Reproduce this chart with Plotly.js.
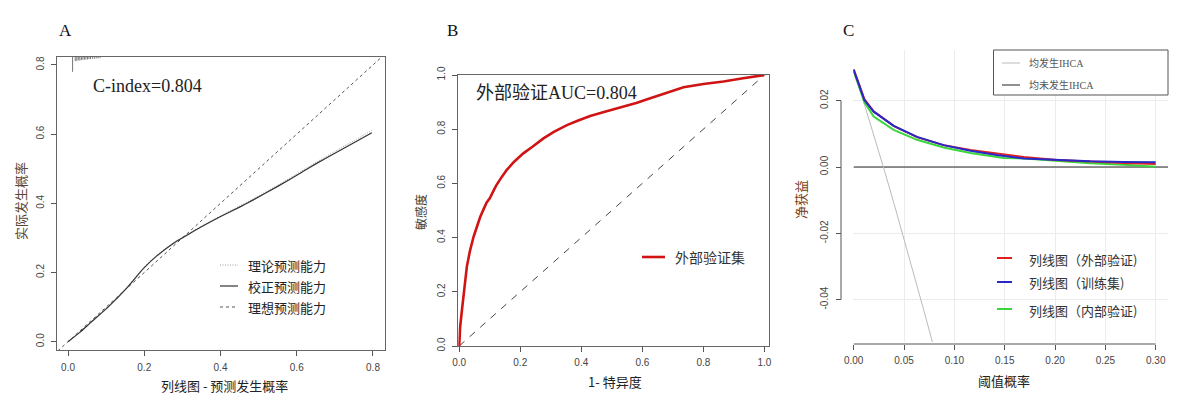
<!DOCTYPE html>
<html><head><meta charset="utf-8">
<script src="https://cdn.plot.ly/plotly-3.0.1.min.js"></script>
<style>html,body{margin:0;padding:0;background:#fff}#chart{width:1182px;height:395px}</style>
</head><body><div id="chart"></div>
<script>
// ---------- Panel A: calibration ----------
const calX      = [0, 0.031, 0.06, 0.105, 0.154, 0.2, 0.233, 0.276, 0.311, 0.35, 0.399, 0.45, 0.486, 0.55, 0.609, 0.65, 0.7, 0.75, 0.797];
const calY      = [0, 0.027, 0.056, 0.1, 0.155, 0.214, 0.248, 0.284, 0.307, 0.332, 0.361, 0.389, 0.41, 0.449, 0.487, 0.514, 0.545, 0.575, 0.604];
const appY      = [0, 0.028, 0.057, 0.102, 0.157, 0.216, 0.25, 0.286, 0.309, 0.334, 0.363, 0.392, 0.413, 0.452, 0.491, 0.518, 0.55, 0.581, 0.611];
const idealX    = [-0.05, 0.9];
const idealY    = [-0.05, 0.9];
const rugX      = [0.012, 0.019, 0.023, 0.027, 0.031, 0.035, 0.039, 0.043, 0.047, 0.051, 0.055, 0.059, 0.064, 0.069, 0.074, 0.079, 0.084];
const rugLen    = [0.043, 0.012, 0.011, 0.010, 0.010, 0.009, 0.008, 0.008, 0.007, 0.007, 0.006, 0.006, 0.005, 0.005, 0.004, 0.004, 0.003];
const ticksA    = [0, 0.2, 0.4, 0.6, 0.8];
const legendA   = ['理论预测能力', '校正预测能力', '理想预测能力'];

// ---------- Panel B: ROC ----------
const rocX = [0, 0.003, 0.009, 0.015, 0.025, 0.035, 0.047, 0.058, 0.069, 0.08, 0.09, 0.10, 0.12, 0.14, 0.156, 0.18, 0.21, 0.24, 0.276, 0.31, 0.353, 0.39, 0.429, 0.48, 0.538, 0.58, 0.626, 0.68, 0.735, 0.8, 0.866, 0.93, 1.0];
const rocY = [0, 0.07, 0.133, 0.2, 0.293, 0.35, 0.403, 0.44, 0.477, 0.505, 0.53, 0.545, 0.59, 0.625, 0.65, 0.68, 0.711, 0.735, 0.766, 0.79, 0.815, 0.832, 0.849, 0.865, 0.883, 0.897, 0.914, 0.935, 0.955, 0.967, 0.976, 0.988, 1.0];
const diagX = [0, 1];
const diagY = [0, 1];
const ticksB = [0, 0.2, 0.4, 0.6, 0.8, 1.0];

// ---------- Panel C: decision curve ----------
const dcaX      = [0, 0.0106, 0.0198, 0.0397, 0.0629, 0.0893, 0.116, 0.142, 0.169, 0.202, 0.235, 0.268, 0.30];
const extNB     = [0.0295, 0.0205, 0.0168, 0.0124, 0.0090, 0.0066, 0.0051, 0.0041, 0.0030, 0.0021, 0.0016, 0.0012, 0.0009];
const trainNB   = [0.0293, 0.0202, 0.0167, 0.0124, 0.0091, 0.0066, 0.0049, 0.0036, 0.0026, 0.0021, 0.0017, 0.0015, 0.0014];
const intX      = [0, 0.0106, 0.0198, 0.0397, 0.0629, 0.0893, 0.116, 0.149, 0.17, 0.202, 0.235, 0.268, 0.30];
const intNB     = [0.0288, 0.0196, 0.0152, 0.0112, 0.0082, 0.0059, 0.0042, 0.0027, 0.0026, 0.0019, 0.0011, 0.0007, 0.0001];
const allX      = [0, 0.01, 0.02, 0.03, 0.04, 0.05, 0.06, 0.07, 0.08];
const allNB     = [0.0295, 0.0197, 0.0097, -0.0005, -0.0110, -0.0216, -0.0324, -0.0436, -0.0549];
const noneX     = [0, 0.32];
const noneNB    = [0, 0];
const ticksCx   = [0, 0.05, 0.10, 0.15, 0.20, 0.25, 0.30];
const ticksCy   = [0.02, 0, -0.02, -0.04];
const ticksCyTx = ['0.02', '0.00', '-0.02', '-0.04'];
const legendC1  = ['均发生IHCA', '均未发生IHCA'];
const legendC2  = ['列线图（外部验证)', '列线图（训练集)', '列线图（内部验证)'];

// ---------- helpers (pixel -> paper) ----------
const W = 1182, H = 395;
const px = v => v / W;
const py = v => 1 - v / H;

const CJK = 'Noto Sans CJK SC, Liberation Serif';
const SERIF = 'Liberation Serif, Noto Sans CJK SC';
const tickFont = {family: 'Liberation Sans, Arial', size: 10, color: '#444'};

// rug segments
const rugXs = [], rugYs = [];
const yTopA = 0.823;
rugX.forEach((x, i) => { rugXs.push(x, x, null); rugYs.push(yTopA, yTopA - rugLen[i], null); });

const traces = [
  {x: idealX, y: idealY, xaxis: 'x', yaxis: 'y', mode: 'lines', line: {color: '#555', width: 1, dash: '3px,3px'}},
  {x: calX, y: appY, xaxis: 'x', yaxis: 'y', mode: 'lines', line: {color: '#999', width: 1, dash: '1px,1.5px', shape: 'spline', smoothing: 0.6}},
  {x: calX, y: calY, xaxis: 'x', yaxis: 'y', mode: 'lines', line: {color: '#333', width: 1.2, shape: 'spline', smoothing: 0.6}},
  {x: rugXs, y: rugYs, xaxis: 'x', yaxis: 'y', mode: 'lines', line: {color: '#777', width: 1}},

  {x: diagX, y: diagY, xaxis: 'x2', yaxis: 'y2', mode: 'lines', line: {color: '#444', width: 1, dash: '7px,7px'}},
  {x: rocX, y: rocY, xaxis: 'x2', yaxis: 'y2', mode: 'lines', line: {color: '#d01414', width: 2.6}},

  {x: noneX, y: noneNB, xaxis: 'x3', yaxis: 'y3', mode: 'lines', line: {color: '#222', width: 1}},
  {x: allX, y: allNB, xaxis: 'x3', yaxis: 'y3', mode: 'lines', line: {color: '#bbb', width: 1}},
  {x: intX, y: intNB, xaxis: 'x3', yaxis: 'y3', mode: 'lines', line: {color: '#3ad63a', width: 2}},
  {x: dcaX, y: extNB, xaxis: 'x3', yaxis: 'y3', mode: 'lines', line: {color: '#e02020', width: 2}},
  {x: dcaX, y: trainNB, xaxis: 'x3', yaxis: 'y3', mode: 'lines', line: {color: '#2828c8', width: 2}}
];

const axBase = {
  ticks: 'outside', ticklen: 5, tickcolor: '#555', tickwidth: 1,
  showline: true, linecolor: '#666', linewidth: 1, mirror: true,
  showgrid: false, zeroline: false, tickfont: tickFont, fixedrange: true
};

const layout = {
  width: W, height: H,
  margin: {l: 0, r: 0, t: 0, b: 0},
  paper_bgcolor: '#fff', plot_bgcolor: '#fff',
  showlegend: false,
  xaxis: Object.assign({}, axBase, {domain: [px(57), px(385)], range: [-0.0289, 0.8315], tickvals: ticksA, tickformat: '.1f', anchor: 'y', ticklabelstandoff: 3}),
  yaxis: Object.assign({}, axBase, {domain: [py(350), py(57)], range: [-0.024, yTopA], tickvals: ticksA, tickformat: '.1f', tickangle: -90, anchor: 'x', ticklabelstandoff: 3}),
  xaxis2: Object.assign({}, axBase, {domain: [px(458.3), px(769)], range: [-0.003, 1.015], tickvals: ticksB, tickformat: '.1f', anchor: 'y2', ticklabelstandoff: 2}),
  yaxis2: Object.assign({}, axBase, {domain: [py(346), py(75)], range: [0, 1], tickvals: ticksB, tickformat: '.1f', tickangle: -90, anchor: 'x2', ticklabelstandoff: 3}),
  xaxis3: Object.assign({}, axBase, {domain: [px(853.3), px(1168)], range: [-0.0004, 0.3122], tickvals: ticksCx, tickformat: '.2f',
           anchor: 'free', position: py(344), showline: false, mirror: false, showgrid: true, gridcolor: '#ececec', gridwidth: 1, ticklabelstandoff: 2}),
  yaxis3: Object.assign({}, axBase, {domain: [py(342), py(50)], range: [-0.0528, 0.0353], tickvals: ticksCy, ticktext: ticksCyTx, tickangle: -90,
           anchor: 'free', position: px(841), showline: false, mirror: false, showgrid: true, gridcolor: '#ececec', gridwidth: 1, ticklabelstandoff: 4}),
  shapes: [
    {type: 'line', xref: 'x3', yref: 'paper', x0: 0, x1: 0.30, y0: py(344), y1: py(344), line: {color: '#555', width: 1}},
    {type: 'line', xref: 'paper', yref: 'y3', x0: px(841), x1: px(841), y0: -0.04, y1: 0.02, line: {color: '#555', width: 1}},
    {type: 'line', xref: 'paper', yref: 'paper', x0: px(220), x1: px(238), y0: py(265), y1: py(265), line: {color: '#999', width: 1, dash: '1px,1.5px'}},
    {type: 'line', xref: 'paper', yref: 'paper', x0: px(220), x1: px(238), y0: py(286), y1: py(286), line: {color: '#333', width: 1.2}},
    {type: 'line', xref: 'paper', yref: 'paper', x0: px(220), x1: px(238), y0: py(307), y1: py(307), line: {color: '#555', width: 1, dash: '3px,3px'}},
    {type: 'line', xref: 'paper', yref: 'paper', x0: px(642), x1: px(665), y0: py(257), y1: py(257), line: {color: '#d01414', width: 2.6}},
    {type: 'rect', xref: 'paper', yref: 'paper', x0: px(993.5), x1: px(1168), y0: py(95), y1: py(50), line: {color: '#555', width: 1}, fillcolor: 'rgba(255,255,255,1)', layer: 'above'},
    {type: 'line', xref: 'paper', yref: 'paper', x0: px(1002), x1: px(1020), y0: py(63), y1: py(63), line: {color: '#bbb', width: 1}},
    {type: 'line', xref: 'paper', yref: 'paper', x0: px(1002), x1: px(1020), y0: py(85), y1: py(85), line: {color: '#222', width: 1}},
    {type: 'line', xref: 'paper', yref: 'paper', x0: px(997), x1: px(1012), y0: py(258), y1: py(258), line: {color: '#e02020', width: 2}},
    {type: 'line', xref: 'paper', yref: 'paper', x0: px(997), x1: px(1012), y0: py(282), y1: py(282), line: {color: '#2828c8', width: 2}},
    {type: 'line', xref: 'paper', yref: 'paper', x0: px(997), x1: px(1012), y0: py(309), y1: py(309), line: {color: '#3ad63a', width: 2}}
  ],
  annotations: []
};

function ann(text, x, y, opts) {
  layout.annotations.push(Object.assign({
    text: text, xref: 'paper', yref: 'paper', x: px(x), y: py(y),
    xanchor: 'center', yanchor: 'middle', showarrow: false,
    font: {family: CJK, size: 14, color: '#222'}
  }, opts || {}));
}

ann('A', 65, 31, {font: {family: SERIF, size: 17, color: '#111'}});
ann('B', 452, 31, {font: {family: SERIF, size: 17, color: '#111'}});
ann('C', 848, 31, {font: {family: SERIF, size: 17, color: '#111'}});

ann('C-index=0.804', 147, 86, {font: {family: SERIF, size: 18, color: '#222'}});
ann('列线图 - 预测发生概率', 225, 385, {font: {family: CJK, size: 13, color: '#222'}});
ann('实际发生概率', 20, 201, {textangle: -90, font: {family: CJK, size: 13, color: '#5a4632'}});
legendA.forEach((t, i) => ann(t, 246, [265, 286, 307][i], {xanchor: 'left', font: {family: CJK, size: 13, color: '#222'}}));

ann('外部验证AUC=0.804', 556, 93, {font: {family: SERIF, size: 18, color: '#222'}});
ann('1- 特异度', 615, 381, {font: {family: CJK, size: 13, color: '#222'}});
ann('敏感度', 420, 212, {textangle: -90, font: {family: CJK, size: 12, color: '#3c3c28'}});
ann('外部验证集', 673, 257, {xanchor: 'left', font: {family: CJK, size: 14, color: '#333'}});

ann('阈值概率', 1004, 380, {font: {family: CJK, size: 13, color: '#222'}});
ann('净获益', 800, 200, {textangle: -90, font: {family: CJK, size: 13, color: '#7a3c14'}});
legendC1.forEach((t, i) => ann(t, 1027, [63, 85][i], {xanchor: 'left', font: {family: SERIF, size: 10, color: '#555'}}));
legendC2.forEach((t, i) => ann(t, 1027, [259, 282, 310][i], {xanchor: 'left', font: {family: CJK, size: 13, color: '#333'}}));

Plotly.newPlot('chart', traces, layout, {staticPlot: true, displayModeBar: false});
</script>
</body></html>
